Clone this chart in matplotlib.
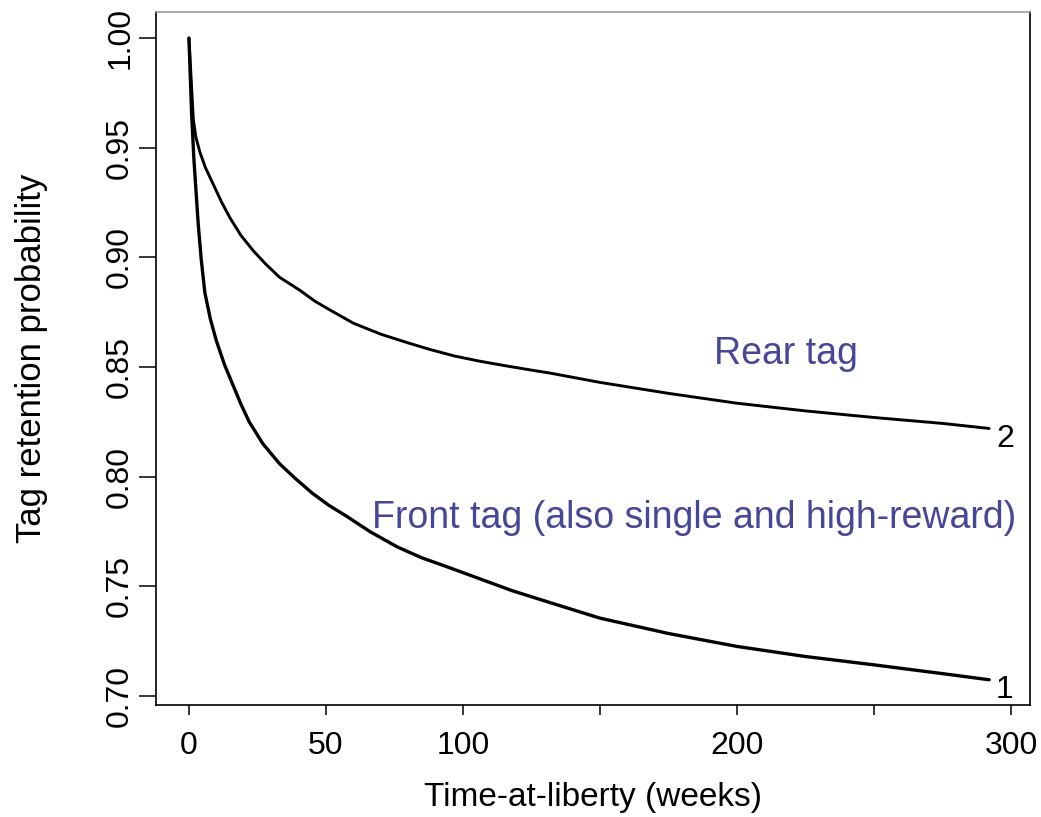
import numpy as np
import matplotlib
matplotlib.use("Agg")
import matplotlib.pyplot as plt

# Valores (semanas em liberdade vs probabilidade de retenção)
weeks_rear = [0, 1.6, 2.5, 4, 6, 9, 12, 15, 19, 23.5, 28, 33, 40.5, 46, 51.5,
              60, 70, 80, 88, 97, 106, 115, 124.5, 132, 150, 175, 200, 225,
              250, 275, 292]
rear = [1.000, 0.963, 0.955, 0.948, 0.941, 0.933, 0.925, 0.918, 0.910, 0.903,
        0.897, 0.891, 0.885, 0.880, 0.876, 0.870, 0.865, 0.861, 0.858, 0.855,
        0.8527, 0.8507, 0.8487, 0.8472, 0.843, 0.838, 0.8335, 0.830, 0.827,
        0.8243, 0.822]

weeks_front = [0, 1.0, 1.8, 2.6, 3.4, 4.5, 5.8, 7.8, 10, 13, 16, 19, 22, 27,
               33, 39, 45, 51, 57.5, 66, 76, 85, 94, 106, 118, 132, 150, 175,
               200, 225, 250, 275, 292]
front = [1.000, 0.965, 0.945, 0.930, 0.915, 0.899, 0.884, 0.872, 0.862, 0.851,
         0.842, 0.833, 0.825, 0.815, 0.806, 0.799, 0.7925, 0.787, 0.782,
         0.775, 0.768, 0.763, 0.759, 0.7535, 0.748, 0.7425, 0.7355, 0.7285,
         0.7226, 0.718, 0.7142, 0.7102, 0.7074]

xticks = [0, 50, 100, 150, 200, 250, 300]
xticklabels = ["0", "50", "100", "", "200", "", "300"]
yticks = [0.70, 0.75, 0.80, 0.85, 0.90, 0.95, 1.00]

texto_cor = "#47479a"
plt.rcParams["font.family"] = ["Liberation Sans", "DejaVu Sans"]

fig = plt.figure(figsize=(10.41, 8.17), dpi=100)
ax = fig.add_axes([0.1499, 0.1371, 0.8395, 0.8482])

ax.plot(weeks_front, front, color="black", lw=2.4, solid_capstyle="round",
        solid_joinstyle="round")
ax.plot(weeks_rear, rear, color="black", lw=2.1, solid_capstyle="round",
        solid_joinstyle="round")

ax.annotate("1", (weeks_front[-1], front[-1]), xytext=(5, -7.5),
            textcoords="offset points", ha="left", va="center", fontsize=23)
ax.annotate("2", (weeks_rear[-1], rear[-1]), xytext=(5, -7.5),
            textcoords="offset points", ha="left", va="center", fontsize=23)

ax.text(218, 0.8515, "Rear tag", color=texto_cor, fontsize=27,
        ha="center", va="baseline")
ax.text(184.3, 0.7765, "Front tag (also single and high-reward)",
        color=texto_cor, fontsize=27, ha="center", va="baseline")

ax.set_xlim(-12, 306.9)
ax.set_ylim(0.6959, 1.0119)

ax.set_xticks(xticks)
ax.set_xticklabels(xticklabels, fontsize=23)
ax.set_yticks(yticks)
ax.set_yticklabels([f"{v:.2f}" for v in yticks], fontsize=23,
                   rotation=90, va="center")

ax.tick_params(axis="x", length=7, width=1.1, pad=12)
ax.tick_params(axis="y", length=12, width=1.1, pad=3)

ax.set_xlabel("Time-at-liberty (weeks)", fontsize=24, labelpad=15)
ax.set_ylabel("Tag retention probability", fontsize=25, labelpad=41)

for lado in ["left", "bottom", "right"]:
    ax.spines[lado].set_linewidth(1.2)
ax.spines["top"].set_color("#999999")
ax.spines["top"].set_linewidth(1.2)

fig.savefig("out.png", dpi=100)
